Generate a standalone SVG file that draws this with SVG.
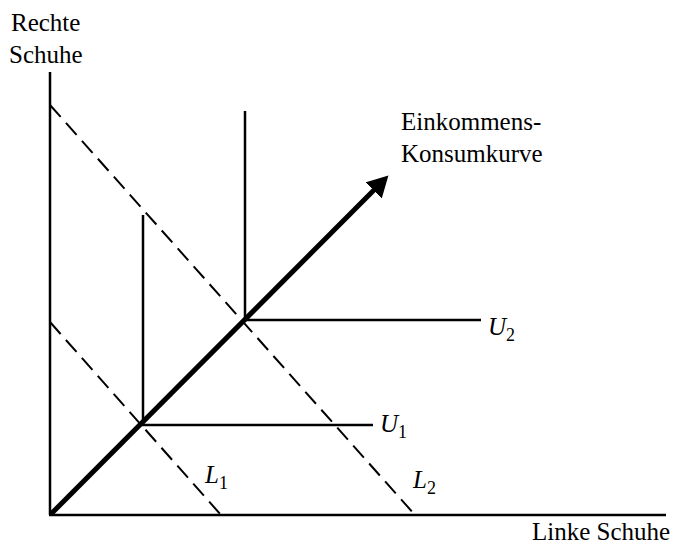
<svg xmlns="http://www.w3.org/2000/svg" width="679" height="546" viewBox="0 0 679 546">
<style>
.t{font-family:"Liberation Serif",serif;font-size:25px;fill:#000}
.i{font-style:italic}
.s{font-size:18px}
.ln{stroke:#000;stroke-width:2.5;fill:none}
.d{stroke:#000;stroke-width:2;fill:none;stroke-dasharray:16 8}
</style>
<defs>
<marker id="ah" markerWidth="4.5" markerHeight="4.6" refX="0.4" refY="2.3" orient="auto" markerUnits="strokeWidth">
<path d="M0,0 L4.2,2.3 L0,4.6 Z" fill="#000"/>
</marker>
</defs>
<g id="axes">
<line class="ln" x1="50" y1="72" x2="50" y2="515" stroke-width="3"/>
<line class="ln" x1="49" y1="515" x2="666" y2="515" stroke-width="3"/>
</g>
<g id="budget">
<line class="d" x1="50" y1="105" x2="415" y2="515"/>
<line class="d" x1="50" y1="322" x2="221" y2="515"/>
</g>
<g id="indifference">
<polyline class="ln" points="245,111 245,320 481,320"/>
<polyline class="ln" points="143,215 143,425 373,425"/>
</g>
<g id="connectors">
<line x1="51" y1="514" x2="375" y2="189" stroke="#000" stroke-width="5" marker-end="url(#ah)"/>
</g>
<g id="labels">
<text class="t" x="11" y="31">Rechte</text>
<text class="t" x="9" y="63">Schuhe</text>
<text class="t" x="401" y="130">Einkommens-</text>
<text class="t" x="401" y="162">Konsumkurve</text>
<text class="t i" x="488" y="335">U<tspan class="s" dy="6" font-style="normal">2</tspan></text>
<text class="t i" x="380" y="432">U<tspan class="s" dy="6" font-style="normal">1</tspan></text>
<text class="t i" x="205" y="483">L<tspan class="s" dy="6" font-style="normal">1</tspan></text>
<text class="t i" x="413" y="488">L<tspan class="s" dy="6" font-style="normal">2</tspan></text>
<text class="t" x="532" y="540">Linke Schuhe</text>
</g>
</svg>
